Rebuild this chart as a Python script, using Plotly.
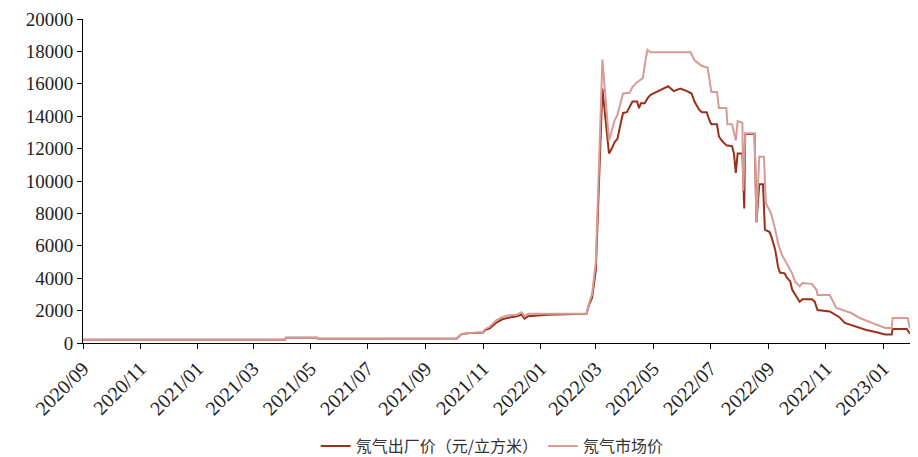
import plotly.graph_objects as go

dark_dates = ["2020-09-01","2021-04-04","2021-04-05","2021-05-08","2021-05-09","2021-10-04","2021-10-09","2021-10-18",
    "2021-11-01","2021-11-03","2021-11-08","2021-11-15","2021-11-21","2021-11-27","2021-12-07","2021-12-12","2021-12-15",
    "2021-12-19","2022-01-08","2022-02-19","2022-02-22","2022-02-25","2022-03-01","2022-03-04","2022-03-08","2022-03-15",
    "2022-03-18","2022-03-21","2022-03-24","2022-03-28","2022-03-30","2022-04-03","2022-04-06","2022-04-09","2022-04-14",
    "2022-04-16","2022-04-18","2022-04-22","2022-04-25","2022-04-28","2022-05-03","2022-05-08","2022-05-13","2022-05-17",
    "2022-05-23","2022-05-30","2022-06-06","2022-06-11","2022-06-14","2022-06-19","2022-06-22","2022-06-27","2022-06-30",
    "2022-07-02","2022-07-08","2022-07-10","2022-07-13","2022-07-18","2022-07-24","2022-07-26","2022-07-28","2022-07-30",
    "2022-08-04","2022-08-05","2022-08-06","2022-08-07","2022-08-17","2022-08-19","2022-08-22","2022-08-26","2022-08-28",
    "2022-09-02","2022-09-04","2022-09-08","2022-09-11","2022-09-13","2022-09-18","2022-09-20","2022-09-24","2022-09-26",
    "2022-09-29","2022-10-04","2022-10-07","2022-10-17","2022-10-20","2022-10-23","2022-11-05","2022-11-15","2022-11-21",
    "2022-12-04","2022-12-14","2022-12-24","2023-01-03","2023-01-10","2023-01-11","2023-01-26","2023-01-29","2023-02-07"]
dark_vals = [200,200,330,330,270,280,550,620,
    640,800,900,1250,1450,1550,1650,1750,1500,
    1650,1750,1800,2400,2800,4500,9800,15700,11700,
    12000,12400,12600,13700,14200,14250,14550,14900,14900,
    14500,14800,14800,15100,15300,15450,15600,15700,15850,
    15550,15700,15550,15400,14900,14400,14250,14250,13750,
    13500,13500,12750,12500,12200,12150,11700,10500,11700,
    11700,9000,8300,12900,12900,7450,9800,9800,7000,
    6850,6550,5750,4700,4350,4300,4070,3800,3300,
    3000,2550,2700,2700,2550,2030,1950,1610,1240,
    990,800,680,520,520,860,860,620,450]

light_dates = ["2020-09-01","2021-04-04","2021-04-05","2021-05-08","2021-05-09","2021-10-04","2021-10-09","2021-10-18",
    "2021-11-01","2021-11-03","2021-11-08","2021-11-15","2021-11-21","2021-11-27","2021-12-07","2021-12-12","2021-12-15",
    "2021-12-19","2022-01-08","2022-02-19","2022-02-22","2022-02-25","2022-03-01","2022-03-04","2022-03-08","2022-03-15",
    "2022-03-18","2022-03-21","2022-03-24","2022-03-28","2022-03-30","2022-04-06","2022-04-09","2022-04-14","2022-04-18",
    "2022-04-20","2022-04-23","2022-04-25","2022-04-28","2022-06-10","2022-06-14","2022-06-22","2022-06-28","2022-07-02",
    "2022-07-08","2022-07-10","2022-07-18","2022-07-19","2022-07-24","2022-07-28","2022-07-30","2022-08-04","2022-08-05",
    "2022-08-07","2022-08-17","2022-08-19","2022-08-22","2022-08-27","2022-08-29","2022-08-30","2022-09-02","2022-09-04",
    "2022-09-08","2022-09-11","2022-09-15","2022-09-20","2022-09-26","2022-09-29","2022-10-04","2022-10-07","2022-10-17",
    "2022-10-22","2022-10-23","2022-11-05","2022-11-12","2022-11-28","2022-12-07","2022-12-20","2023-01-03","2023-01-10",
    "2023-01-11","2023-01-27","2023-01-29","2023-02-07"]
light_vals = [200,200,330,330,270,280,550,620,
    680,850,1000,1400,1600,1700,1750,1900,1650,
    1800,1800,1800,2500,3000,5000,10500,17500,12500,
    13100,13750,14100,14870,15400,15450,15800,16100,16250,
    16350,17500,18100,17950,17950,17450,17100,17000,15500,
    15500,14500,14500,13500,13500,12500,13700,13600,9400,
    12950,12950,7450,11500,11500,8700,8500,8200,7900,
    7000,6150,5450,4950,4300,3800,3500,3700,3650,
    3270,2960,2960,2160,1850,1540,1240,930,930,
    1540,1540,990,800]

series_names = ["氖气出厂价（元/立方米）", "氖气市场价"]
y_ticks = [0, 2000, 4000, 6000, 8000, 10000, 12000, 14000, 16000, 18000, 20000]

fig = go.Figure()
fig.add_trace(go.Scatter(x=dark_dates, y=dark_vals, mode="lines", name=series_names[0],
                         line=dict(color="#98301a", width=2)))
fig.add_trace(go.Scatter(x=light_dates, y=light_vals, mode="lines", name=series_names[1],
                         line=dict(color="#d69b95", width=2)))

serif = "Liberation Serif, Times New Roman, serif"
# the page body adds an 8px offset, so the figure is sized to fill the rest of the window
fig.update_layout(
    width=910, height=449,
    margin=dict(l=75, r=0, t=11, b=114, autoexpand=False),
    plot_bgcolor="white", paper_bgcolor="white",
    showlegend=True,
    legend=dict(orientation="h", x=0.49, xanchor="center", y=-0.318, yanchor="middle",
                font=dict(family="Noto Sans CJK SC", size=16, color="#333333"),
                itemwidth=30, tracegroupgap=0),
    xaxis=dict(type="date", range=["2020-09-01", "2023-02-07"], tick0="2020-09-01", dtick="M2",
               tickformat="%Y/%m", tickangle=-45, ticks="outside", ticklen=5, tickcolor="black",
               showline=True, linecolor="black", linewidth=1, showgrid=False, zeroline=False,
               automargin=False,
               tickfont=dict(family=serif, size=20, color="#222222")),
    yaxis=dict(range=[0, 20000], tickvals=y_ticks, tickformat="d", ticks="outside", ticklen=5,
               tickcolor="black", showline=True, linecolor="black", linewidth=1, showgrid=False,
               zeroline=False, automargin=False,
               tickfont=dict(family=serif, size=19, color="#222222")),
)
fig.write_html("out.html")
